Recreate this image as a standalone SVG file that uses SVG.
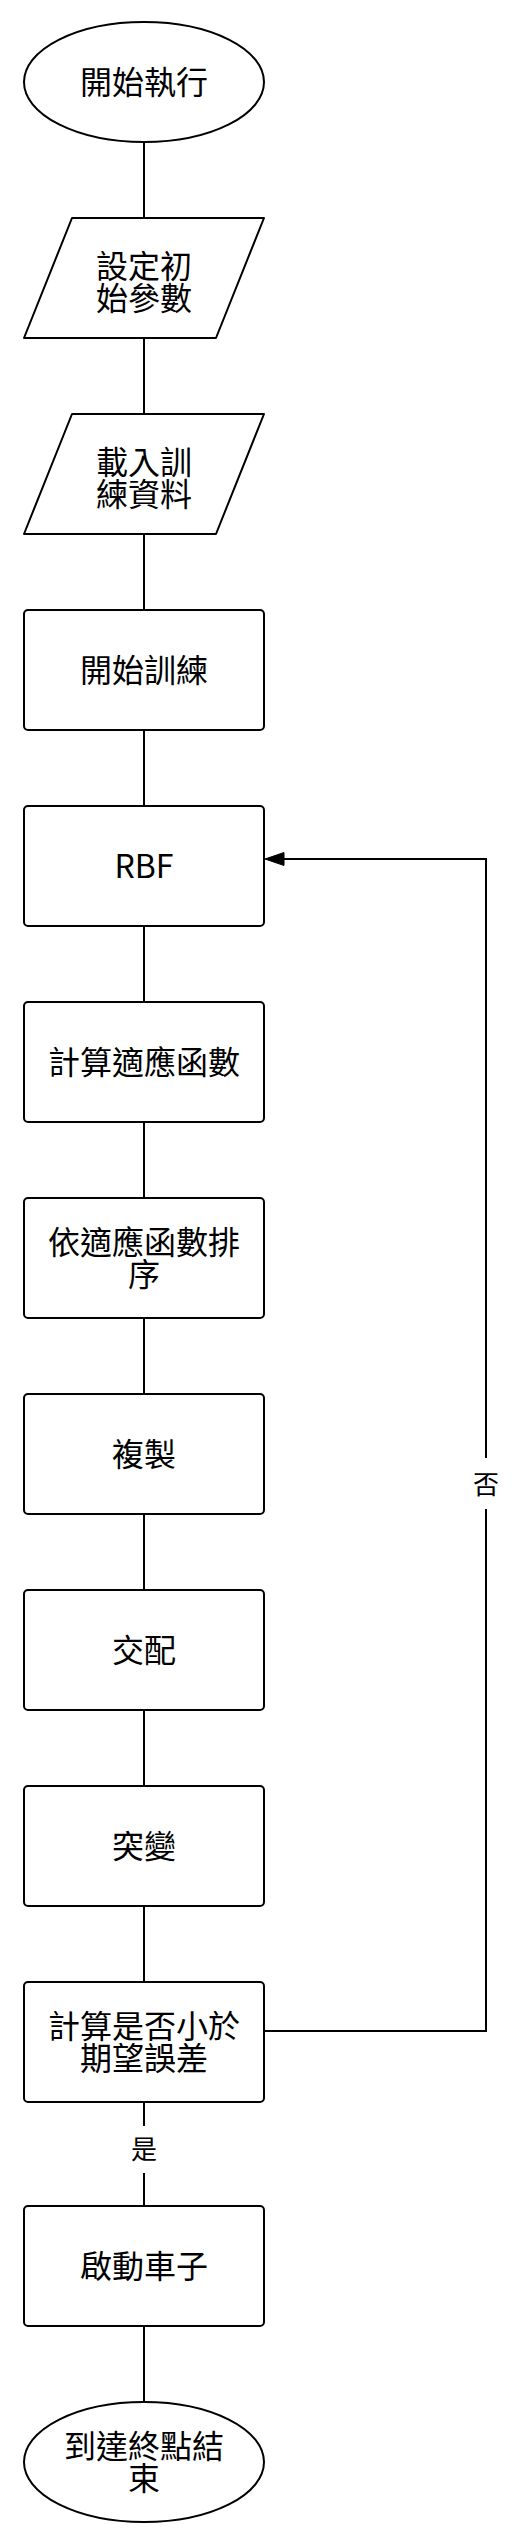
<svg xmlns="http://www.w3.org/2000/svg" width="528" height="2544" viewBox="0 0 528 2544">
<style>
.n{fill:#fff;stroke:#000;stroke-width:2;stroke-linejoin:round}
.t{font-family:"Noto Sans CJK TC","Noto Sans CJK SC",sans-serif;font-size:32px;fill:#000;text-anchor:middle}
.l{font-family:"Noto Sans CJK TC","Noto Sans CJK SC",sans-serif;font-size:26px;fill:#000;text-anchor:middle}
.e{fill:none;stroke:#000;stroke-width:2}
</style>
<rect width="528" height="2544" fill="#fff"/>
<g id="connectors">
<path class="e" d="M144 142V218M144 338V414M144 534V610M144 730V806M144 926V1002M144 1122V1198M144 1318V1394M144 1514V1590M144 1710V1786M144 1906V1982M144 2102V2126M144 2173V2206M144 2326V2402"/>
<path class="e" d="M264 2031H486V1509M486 1458V859H282"/>
<polygon points="265,859 284,852.5 284,865.5" fill="#000" stroke="#000" stroke-width="1"/>
<text class="l" x="144" y="2159">是</text>
<text class="l" x="486" y="1494">否</text>
</g>
<g id="start"><ellipse class="n" cx="144" cy="82" rx="120" ry="60"/><text class="t" x="144" y="93.5">開始執行</text></g>
<g id="setParams"><polygon class="n" points="72,218 264,218 216,338 24,338"/><text class="t" x="144" y="277.5">設定初</text><text class="t" x="144" y="309.5">始參數</text></g>
<g id="loadData"><polygon class="n" points="72,414 264,414 216,534 24,534"/><text class="t" x="144" y="473.5">載入訓</text><text class="t" x="144" y="505.5">練資料</text></g>
<g id="startTrain"><rect class="n" x="24" y="610" width="240" height="120" rx="4"/><text class="t" x="144" y="681.5">開始訓練</text></g>
<g id="rbf"><rect class="n" x="24" y="806" width="240" height="120" rx="4"/><text class="t" x="144" y="877.5">RBF</text></g>
<g id="fitness"><rect class="n" x="24" y="1002" width="240" height="120" rx="4"/><text class="t" x="144" y="1073.5">計算適應函數</text></g>
<g id="sort"><rect class="n" x="24" y="1198" width="240" height="120" rx="4"/><text class="t" x="144" y="1253.5">依適應函數排</text><text class="t" x="144" y="1285.5">序</text></g>
<g id="copy"><rect class="n" x="24" y="1394" width="240" height="120" rx="4"/><text class="t" x="144" y="1465.5">複製</text></g>
<g id="crossover"><rect class="n" x="24" y="1590" width="240" height="120" rx="4"/><text class="t" x="144" y="1661.5">交配</text></g>
<g id="mutation"><rect class="n" x="24" y="1786" width="240" height="120" rx="4"/><text class="t" x="144" y="1857.5">突變</text></g>
<g id="check"><rect class="n" x="24" y="1982" width="240" height="120" rx="4"/><text class="t" x="144" y="2037.5">計算是否小於</text><text class="t" x="144" y="2069.5">期望誤差</text></g>
<g id="startCar"><rect class="n" x="24" y="2206" width="240" height="120" rx="4"/><text class="t" x="144" y="2277.5">啟動車子</text></g>
<g id="end"><ellipse class="n" cx="144" cy="2462" rx="120" ry="60"/><text class="t" x="144" y="2457.5">到達終點結</text><text class="t" x="144" y="2489.5">束</text></g>
</svg>
